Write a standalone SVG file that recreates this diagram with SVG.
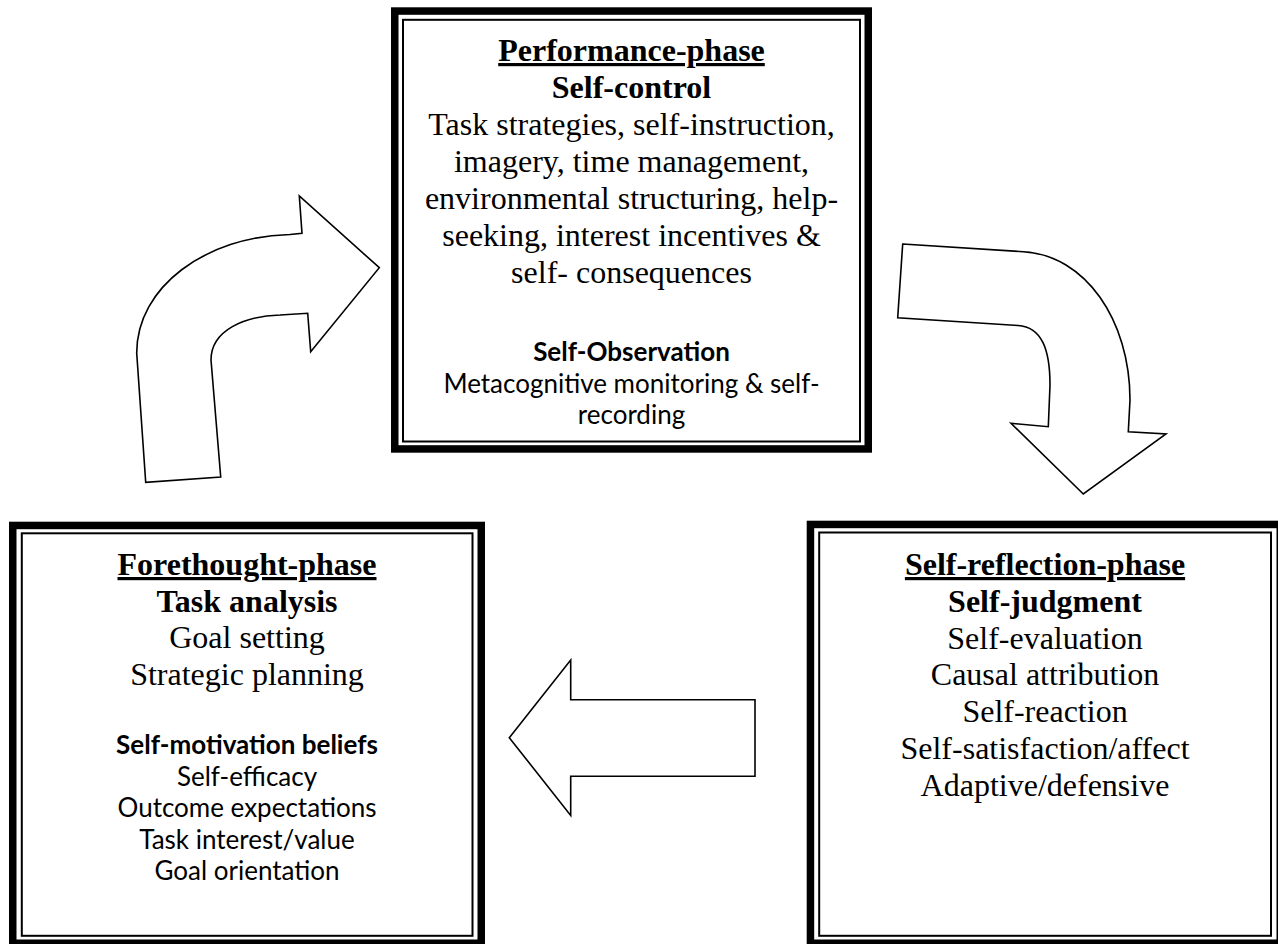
<svg xmlns="http://www.w3.org/2000/svg" width="1278" height="944" viewBox="0 0 1278 944">
  <style>
    .frame { fill: none; stroke: #000; stroke-width: 7.5; }
    .inner { fill: none; stroke: #000; stroke-width: 2; }
    .serif { font-family: "Liberation Serif", "Times New Roman", serif; font-size: 32px; fill: #000; text-anchor: middle; }
    .sans { font-family: Lato, "Open Sans", sans-serif; font-size: 26px; fill: #000; text-anchor: middle; }
    .b { font-weight: bold; }
    .u { text-decoration: underline; text-decoration-thickness: 2.2px; }
    .arrow { fill: #fff; stroke: #000; stroke-width: 1.6; stroke-linejoin: miter; }
  </style>
  <rect width="1278" height="944" fill="#fff"/>

  <!-- Performance phase -->
  <g id="performance-phase">
    <rect class="frame" x="394.75" y="11.05" width="473.5" height="437.9"/>
    <rect class="inner" x="403" y="19.8" width="457" height="421.7"/>
    <text class="serif b u" x="631.5" y="61">Performance-phase</text>
    <text class="serif b" x="631.5" y="98">Self-control</text>
    <text class="serif" x="631.5" y="135">Task strategies, self-instruction,</text>
    <text class="serif" x="631.5" y="172">imagery, time management,</text>
    <text class="serif" x="631.5" y="209">environmental structuring, help-</text>
    <text class="serif" x="631.5" y="246">seeking, interest incentives &amp;</text>
    <text class="serif" x="631.5" y="283">self- consequences</text>
    <text class="sans b" x="631.5" y="361">Self-Observation</text>
    <text class="sans" x="631.5" y="392.5">Metacognitive monitoring &amp; self-</text>
    <text class="sans" x="631.5" y="424">recording</text>
  </g>

  <!-- Forethought phase -->
  <g id="forethought-phase">
    <rect class="frame" x="12.75" y="525.45" width="468.5" height="417.8"/>
    <rect class="inner" x="21.8" y="533.3" width="450.7" height="402.5"/>
    <text class="serif b u" x="247" y="575">Forethought-phase</text>
    <text class="serif b" x="247" y="612">Task analysis</text>
    <text class="serif" x="247" y="648">Goal setting</text>
    <text class="serif" x="247" y="685">Strategic planning</text>
    <text class="sans b" x="247" y="754">Self-motivation beliefs</text>
    <text class="sans" x="247" y="785.5">Self-efficacy</text>
    <text class="sans" x="247" y="817">Outcome expectations</text>
    <text class="sans" x="247" y="848.5">Task interest/value</text>
    <text class="sans" x="247" y="880">Goal orientation</text>
  </g>

  <!-- Self-reflection phase -->
  <g id="self-reflection-phase">
    <rect class="frame" x="810.45" y="524.45" width="469.8" height="418.8"/>
    <rect class="inner" x="819.2" y="532.5" width="451.8" height="403.3"/>
    <text class="serif b u" x="1045" y="575">Self-reflection-phase</text>
    <text class="serif b" x="1045" y="612">Self-judgment</text>
    <text class="serif" x="1045" y="648.6">Self-evaluation</text>
    <text class="serif" x="1045" y="685.4">Causal attribution</text>
    <text class="serif" x="1045" y="722.2">Self-reaction</text>
    <text class="serif" x="1045" y="759">Self-satisfaction/affect</text>
    <text class="serif" x="1045" y="795.8">Adaptive/defensive</text>
  </g>

  <!-- Cycle arrows -->
  <g id="connectors">
    <path id="arrow-forethought-to-performance" class="arrow"
          d="M145.7 482.3 L136.7 353 C136.7 287 205.5 236.5 290 234.5 L302 233.3 L299.3 196 L379.3 267.7 L310.7 351.7 L307.7 313.3 L280 315 C245 316 211 330 211 360 L220.7 477 Z"/>
    <path id="arrow-performance-to-reflection" class="arrow"
          d="M902.7 244 L1023.3 251.7 C1085 255 1130 320 1130 400 L1128.3 431.7 L1166 434 L1083.3 494 L1011 423.3 L1048.3 426.7 L1050 385 C1050 350 1042 327 1018 325.5 L897.7 317.7 Z"/>
    <path id="arrow-reflection-to-forethought" class="arrow"
          d="M509.3 737.7 L570.7 660 L570.7 699.7 L755 699.7 L755 776.3 L570.7 776.3 L570.7 815.4 Z"/>
  </g>
</svg>
